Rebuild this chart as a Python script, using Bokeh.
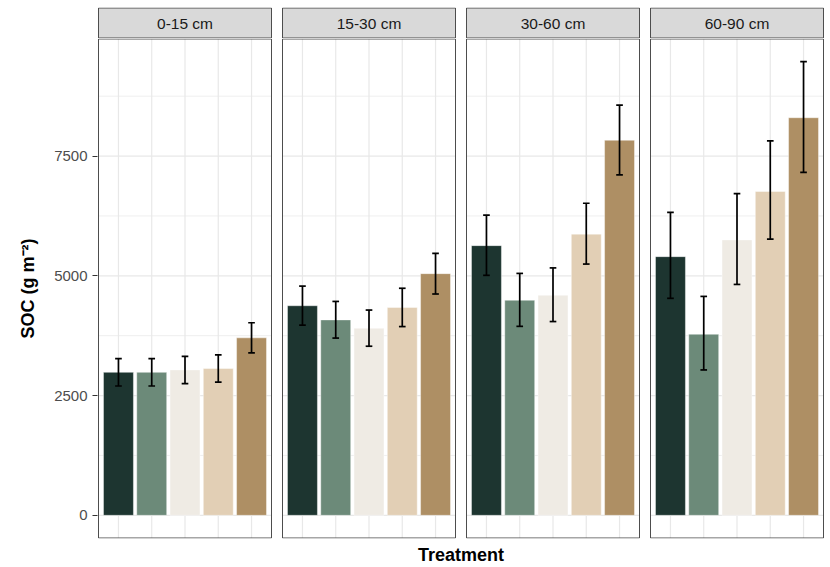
import math
from bokeh.plotting import figure
from bokeh.layouts import column
from bokeh.models import Range1d, FixedTicker
from bokeh.core.properties import value
from bokeh.embed import file_html
from bokeh.resources import INLINE

# ---------------- data ----------------
depths = ["0-15 cm", "15-30 cm", "30-60 cm", "60-90 cm"]
treatments = ["T1", "T2", "T3", "T4", "T5"]
colors = ["#1d3530", "#6c8a79", "#efebe4", "#e2cfb5", "#ae8f64"]

soc_0_15 = [2985, 2985, 3035, 3065, 3705]
soc_15_30 = [4375, 4080, 3905, 4340, 5045]
soc_30_60 = [5630, 4490, 4595, 5870, 7830]
soc_60_90 = [5400, 3780, 5750, 6760, 8300]

lo_0_15 = [2700, 2700, 2750, 2780, 3390]
lo_15_30 = [3970, 3700, 3530, 3940, 4620]
lo_30_60 = [5010, 3945, 4045, 5245, 7105]
lo_60_90 = [4530, 3035, 4820, 5765, 7160]

hi_0_15 = [3270, 3270, 3320, 3350, 4020]
hi_15_30 = [4785, 4465, 4285, 4740, 5470]
hi_30_60 = [6265, 5050, 5165, 6515, 8565]
hi_60_90 = [6325, 4570, 6715, 7815, 9470]

y_ticks = [0, 2500, 5000, 7500]
y_minor = [1250, 3750, 6250, 8750]

means = [soc_0_15, soc_15_30, soc_30_60, soc_60_90]
lows = [lo_0_15, lo_15_30, lo_30_60, lo_60_90]
highs = [hi_0_15, hi_15_30, hi_30_60, hi_60_90]

# ---------------- layout constants ----------------
FONT = "Liberation Sans"
BORDER = "#4d4d4d"
PANEL_W = 5.2          # 5 discrete slots + 0.6 expansion on each side
PX_PER_U = 173 / PANEL_W
GAP = 11 / PX_PER_U
BAR_W = 0.9
CAP_W = 0.2
y_max = max(max(h) for h in highs)
Y_LO = -0.05 * y_max
Y_HI = 1.05 * y_max
U_PER_PX_Y = (Y_HI - Y_LO) / 500
TOTAL = 4 * PANEL_W + 3 * GAP
PADX = 1 / PX_PER_U
XR = (-PADX, TOTAL + PADX)

lefts = [k * (PANEL_W + GAP) for k in range(len(depths))]
rights = [l + PANEL_W for l in lefts]

# ---------------- strip figure ----------------
s = figure(width=830, height=38, output_backend="svg", toolbar_location=None,
           x_range=Range1d(*XR), y_range=Range1d(-0.5 / 30, 1 + 0.5 / 30),
           x_axis_location=None, y_axis_location=None,
           min_border_left=97, min_border_right=6, min_border_top=7, min_border_bottom=0)
s.outline_line_color = None
s.xgrid.visible = False
s.ygrid.visible = False
s.quad(left=lefts, right=rights, top=1, bottom=0, fill_color="#d9d9d9",
       line_color=BORDER, line_width=1)
s.text(x=[(l + r) / 2 for l, r in zip(lefts, rights)], y=[0.5] * 4,
       text=depths, text_font=value(FONT), text_font_size=value("15.5px"),
       text_color="#1a1a1a", text_align="center", text_baseline="middle")

# ---------------- main figure ----------------
p = figure(width=830, height=529, output_backend="svg", toolbar_location=None,
           x_range=Range1d(*XR),
           y_range=Range1d(Y_LO - 0.5 * U_PER_PX_Y, Y_HI + 0.5 * U_PER_PX_Y),
           min_border_left=97, min_border_right=6, min_border_top=0, min_border_bottom=28)
p.outline_line_color = None
p.xgrid.visible = False
p.ygrid.visible = False

p.xaxis.ticker = FixedTicker(ticks=[])
p.xaxis.axis_line_color = None
p.xaxis.major_tick_out = 0
p.xaxis.minor_tick_out = 0
p.xaxis.axis_label = "Treatment"
p.xaxis.axis_label_text_font = FONT
p.xaxis.axis_label_text_font_style = "bold"
p.xaxis.axis_label_text_font_size = "18px"
p.xaxis.axis_label_text_color = "black"
p.xaxis.axis_label_standoff = 6

p.yaxis.ticker = FixedTicker(ticks=y_ticks, minor_ticks=[])
p.yaxis.axis_line_color = None
p.yaxis.major_tick_out = 5
p.yaxis.major_tick_in = 0
p.yaxis.minor_tick_out = 0
p.yaxis.major_tick_line_color = "#333333"
p.yaxis.major_label_text_font = FONT
p.yaxis.major_label_text_font_size = "15px"
p.yaxis.major_label_text_color = "#4d4d4d"
p.yaxis.major_label_standoff = 5
p.yaxis.axis_label = "SOC (g m\u207b\u00b2)"
p.yaxis.axis_label_text_font = FONT
p.yaxis.axis_label_text_font_style = "bold"
p.yaxis.axis_label_text_font_size = "18px"
p.yaxis.axis_label_text_color = "black"
p.yaxis.axis_label_standoff = 13

# gridlines
gx0, gy0, gx1, gy1 = [], [], [], []
mx0, my0, mx1, my1 = [], [], [], []
for l, r in zip(lefts, rights):
    for t in y_ticks:
        gx0.append(l); gx1.append(r); gy0.append(t); gy1.append(t)
    for j in range(len(treatments)):
        xc = l + 0.6 + j
        gx0.append(xc); gx1.append(xc); gy0.append(Y_LO); gy1.append(Y_HI)
    for t in y_minor:
        if Y_LO < t < Y_HI:
            mx0.append(l); mx1.append(r); my0.append(t); my1.append(t)
p.segment(mx0, my0, mx1, my1, line_color="#ebebeb", line_width=0.8)
p.segment(gx0, gy0, gx1, gy1, line_color="#e8e8e8", line_width=1.2)

# bars + error bars
bx, btop, bcol, ex0, ey0, ex1, ey1 = [], [], [], [], [], [], []
for k in range(len(depths)):
    for j in range(len(treatments)):
        xc = lefts[k] + 0.6 + j
        bx.append(xc); btop.append(means[k][j]); bcol.append(colors[j])
        ex0 += [xc, xc - CAP_W / 2, xc - CAP_W / 2]
        ex1 += [xc, xc + CAP_W / 2, xc + CAP_W / 2]
        ey0 += [lows[k][j], lows[k][j], highs[k][j]]
        ey1 += [highs[k][j], lows[k][j], highs[k][j]]
p.vbar(x=bx, top=btop, bottom=0, width=BAR_W, fill_color=bcol,
       line_color="white", line_width=0.6, line_alpha=0.7)
p.segment(ex0, ey0, ex1, ey1, line_color="black", line_width=1.7)

# panel borders
p.quad(left=lefts, right=rights, top=Y_HI, bottom=Y_LO, fill_color=None,
       line_color=BORDER, line_width=1)

layout = column(s, p, spacing=0)
open("out.html", "w").write(file_html(layout, INLINE))
